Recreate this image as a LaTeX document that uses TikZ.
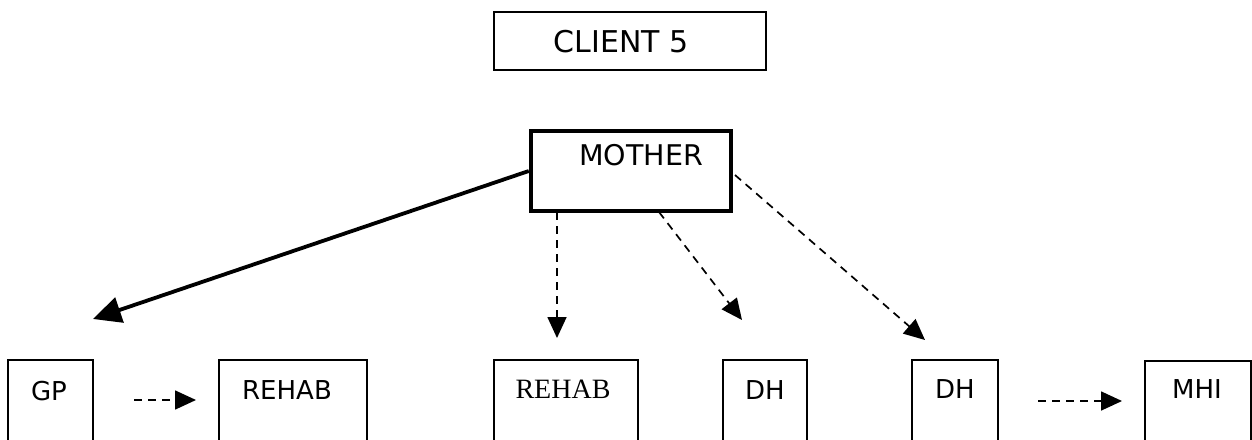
\documentclass[tikz,border=0pt]{standalone}
\usepackage{fontspec}
\setmainfont{DejaVu Sans}
\newfontfamily\serifrm{Liberation Serif}
\usetikzlibrary{arrows.meta}
\begin{document}
\begin{tikzpicture}[x=1pt,y=-1pt,
  box/.style={draw, line width=1.7pt, inner sep=0pt},
  lbl/.style={inner sep=0pt, font=\fontsize{26}{30}\selectfont},
  slbl/.style={inner sep=0pt, font=\serifrm\fontsize{28}{32}\selectfont},
  dasharrow/.style={line width=1.7pt, dash pattern=on 8pt off 6pt, -{Triangle[length=21pt,width=19pt]}},
  thickarrow/.style={line width=3.8pt, -{Triangle[length=28pt,width=26pt]}}]
\useasboundingbox (0,0) rectangle (1252,439);
\clip (0,0) rectangle (1252,439);
\fill[white] (0,0) rectangle (1252,439);

% top boxes
\node[box, minimum width=272pt, minimum height=58pt] (client) at (630,41) {};
\node[lbl, font=\fontsize{30}{34}\selectfont] (clientt) at (621,42) {CLIENT 5};
\node[box, line width=4.5pt, minimum width=200pt, minimum height=80pt] (mother) at (631,171) {};
\node[lbl, font=\fontsize{28.5}{32}\selectfont] (mothert) at (641,155) {MOTHER};

% bottom boxes (cut by the page edge)
\node[box, minimum width=85pt, minimum height=120pt] (gp) at (50.5,420) {};
\node[lbl] (gpt) at (49,391) {GP};
\node[box, minimum width=148pt, minimum height=120pt] (rehabA) at (293,420) {};
\node[lbl] (rehabAt) at (287,390) {REHAB};
\node[box, minimum width=144pt, minimum height=120pt] (rehabB) at (566,420) {};
\node[slbl] (rehabBt) at (563,389) {REHAB};
\node[box, minimum width=84pt, minimum height=120pt] (dhA) at (765,420) {};
\node[lbl] (dhAt) at (765,390) {DH};
\node[box, minimum width=86pt, minimum height=120pt] (dhB) at (955,420) {};
\node[lbl] (dhBt) at (955,389) {DH};
\node[box, minimum width=106pt, minimum height=120pt] (mhi) at (1198,421) {};
\node[lbl] (mhit) at (1197,389) {MHI};

% arrow end points
\coordinate (gpin) at (93,319);
\coordinate (rehabBin) at (557,338);
\coordinate (dhAin) at (742,320);
\coordinate (dhBin) at (925,340);
\coordinate (m1) at (557,212);
\coordinate (m2) at (659,212);
\coordinate (m3) at (735,175);
\coordinate (gpout) at (134,400);
\coordinate (rehabAin) at (196,400);
\coordinate (dhBout) at (1038,401);
\coordinate (mhiin) at (1122,401);

\draw[thickarrow] (mother.west) -- (gpin);
\draw[dasharrow] (m1) -- (rehabBin);
\draw[dasharrow] (m2) -- (dhAin);
\draw[dasharrow] (m3) -- (dhBin);
\draw[dasharrow] (gpout) -- (rehabAin);
\draw[dasharrow] (dhBout) -- (mhiin);
\end{tikzpicture}
\end{document}
